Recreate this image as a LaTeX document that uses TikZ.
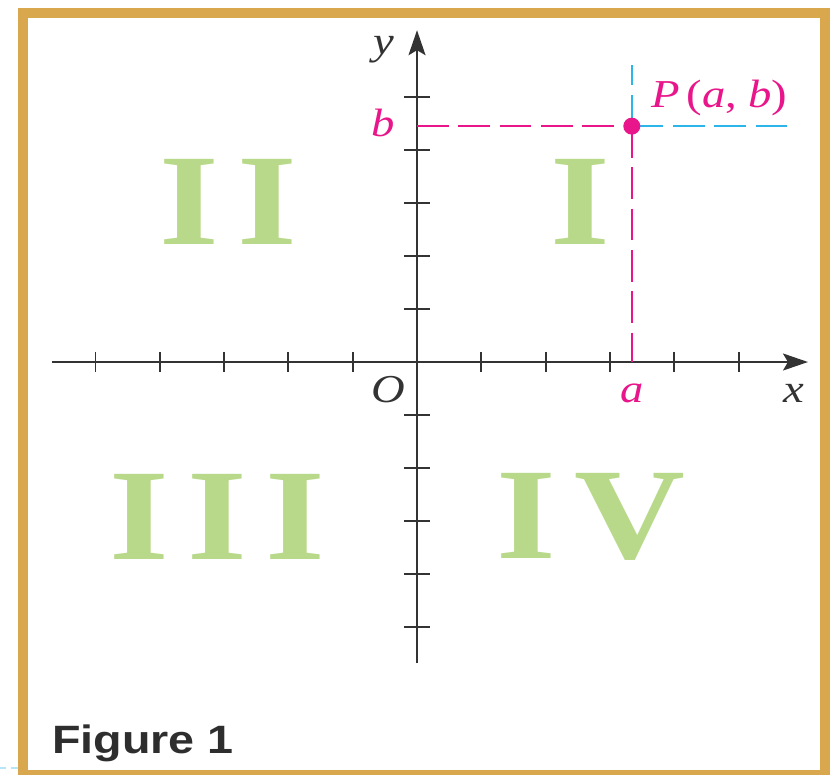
\documentclass[tikz,border=0pt]{standalone}
\usepackage{fontspec}
\setmainfont{Liberation Serif}[FakeStretch=1.18]
\newfontfamily\capfont{Liberation Sans}[FakeStretch=1.18]
\usetikzlibrary{arrows.meta,positioning,calc}
\definecolor{gold}{HTML}{D9A74E}
\definecolor{leaf}{HTML}{B9D98A}
\definecolor{hotpink}{HTML}{E8168A}
\definecolor{sky}{HTML}{2BB5E8}
\definecolor{ink}{HTML}{333333}

\begin{document}
\begin{tikzpicture}[
  x=1.286cm,y=1.06cm,
  axis/.style={line width=1.1pt,ink,-{Stealth[length=5mm,width=3.4mm,inset=1mm]}},
  tk/.style={line width=1.1pt,ink},
  guide/.style={line width=0.9pt,dash pattern=on 18pt off 5.5pt},
  lbl/.style={anchor=base,inner sep=0pt,font=\fontsize{22.5}{22.5}\selectfont},
  quad/.style={inner sep=0pt,leaf,font=\fontsize{74}{74}\selectfont\bfseries}]
\useasboundingbox (-6.485,-7.79) rectangle (6.50,6.83);
% frame
\draw[sky!35,line width=0.8pt,dash pattern=on 3.5pt off 3pt] (-6.485,-7.66) -- (-6.2,-7.66);
\draw[gold,line width=0.2cm] (-6.12,-7.79) rectangle (6.35,6.585);
% axes
\coordinate (O) at (0,0);
\coordinate (xmin) at (-5.68,0);
\coordinate (xmax) at (6.08,0);
\coordinate (ymin) at (0,-5.68);
\coordinate (ymax) at (0,6.26);
\draw[axis] (xmin) -- (xmax);
\draw[axis] (ymin) -- (ymax);
\foreach \i in {-5,...,-1,1,2,...,5} {
  \draw[tk] ([yshift=-0.2cm]\i,0) -- ([yshift=0.2cm]\i,0);
  \draw[tk] ([xshift=-0.26cm]0,\i) -- ([xshift=0.26cm]0,\i);
}
% point P(a,b)
\coordinate (P) at (3.34,4.45);
\coordinate (Pa) at (3.34,0);
\coordinate (Pb) at (0,4.45);
\coordinate (Ptop) at (3.34,5.6);
\coordinate (Pright) at (5.75,4.45);
\draw[guide,hotpink] (Pb) -- (P);
\draw[guide,hotpink] (P) -- (Pa);
\draw[guide,sky] (P) -- (Ptop);
\draw[guide,sky] (P) -- (Pright);
\fill[hotpink] (P) circle (0.17cm);
% labels
\node[lbl,ink] (ylab) at (-0.51,5.81) {\textit{y}};
\node[lbl,ink] (xlab) at (5.86,-0.77) {\textit{x}};
\node[lbl,ink] (olab) at (-0.44,-0.77) {\textit{O}};
\node[lbl,hotpink] (blab) at (-0.53,4.25) {\textit{b}};
\node[lbl,hotpink] (alab) at (3.34,-0.755) {\textit{a}};
\node[lbl,hotpink] (plab) at (4.70,4.81) {\textit{P}\,(\textit{a},\;\textit{b})};
% quadrants
\node[quad] (q2) at (-2.93,3.02) {I\hspace{0.14em}I};
\node[quad] (q1) at (2.54,3.02) {I};
\node[quad] (q3) at (-3.10,-2.92) {I\hspace{0.14em}I\hspace{0.14em}I};
\node[quad] (q4) at (2.71,-2.92) {I\hspace{0.14em}V};
\node[anchor=base west,inner sep=0pt,font=\capfont\bfseries\fontsize{22.5}{22.5}\selectfont,ink!90!black] (cap) at (-5.68,-7.38) {Figure 1};
\end{tikzpicture}
\end{document}
